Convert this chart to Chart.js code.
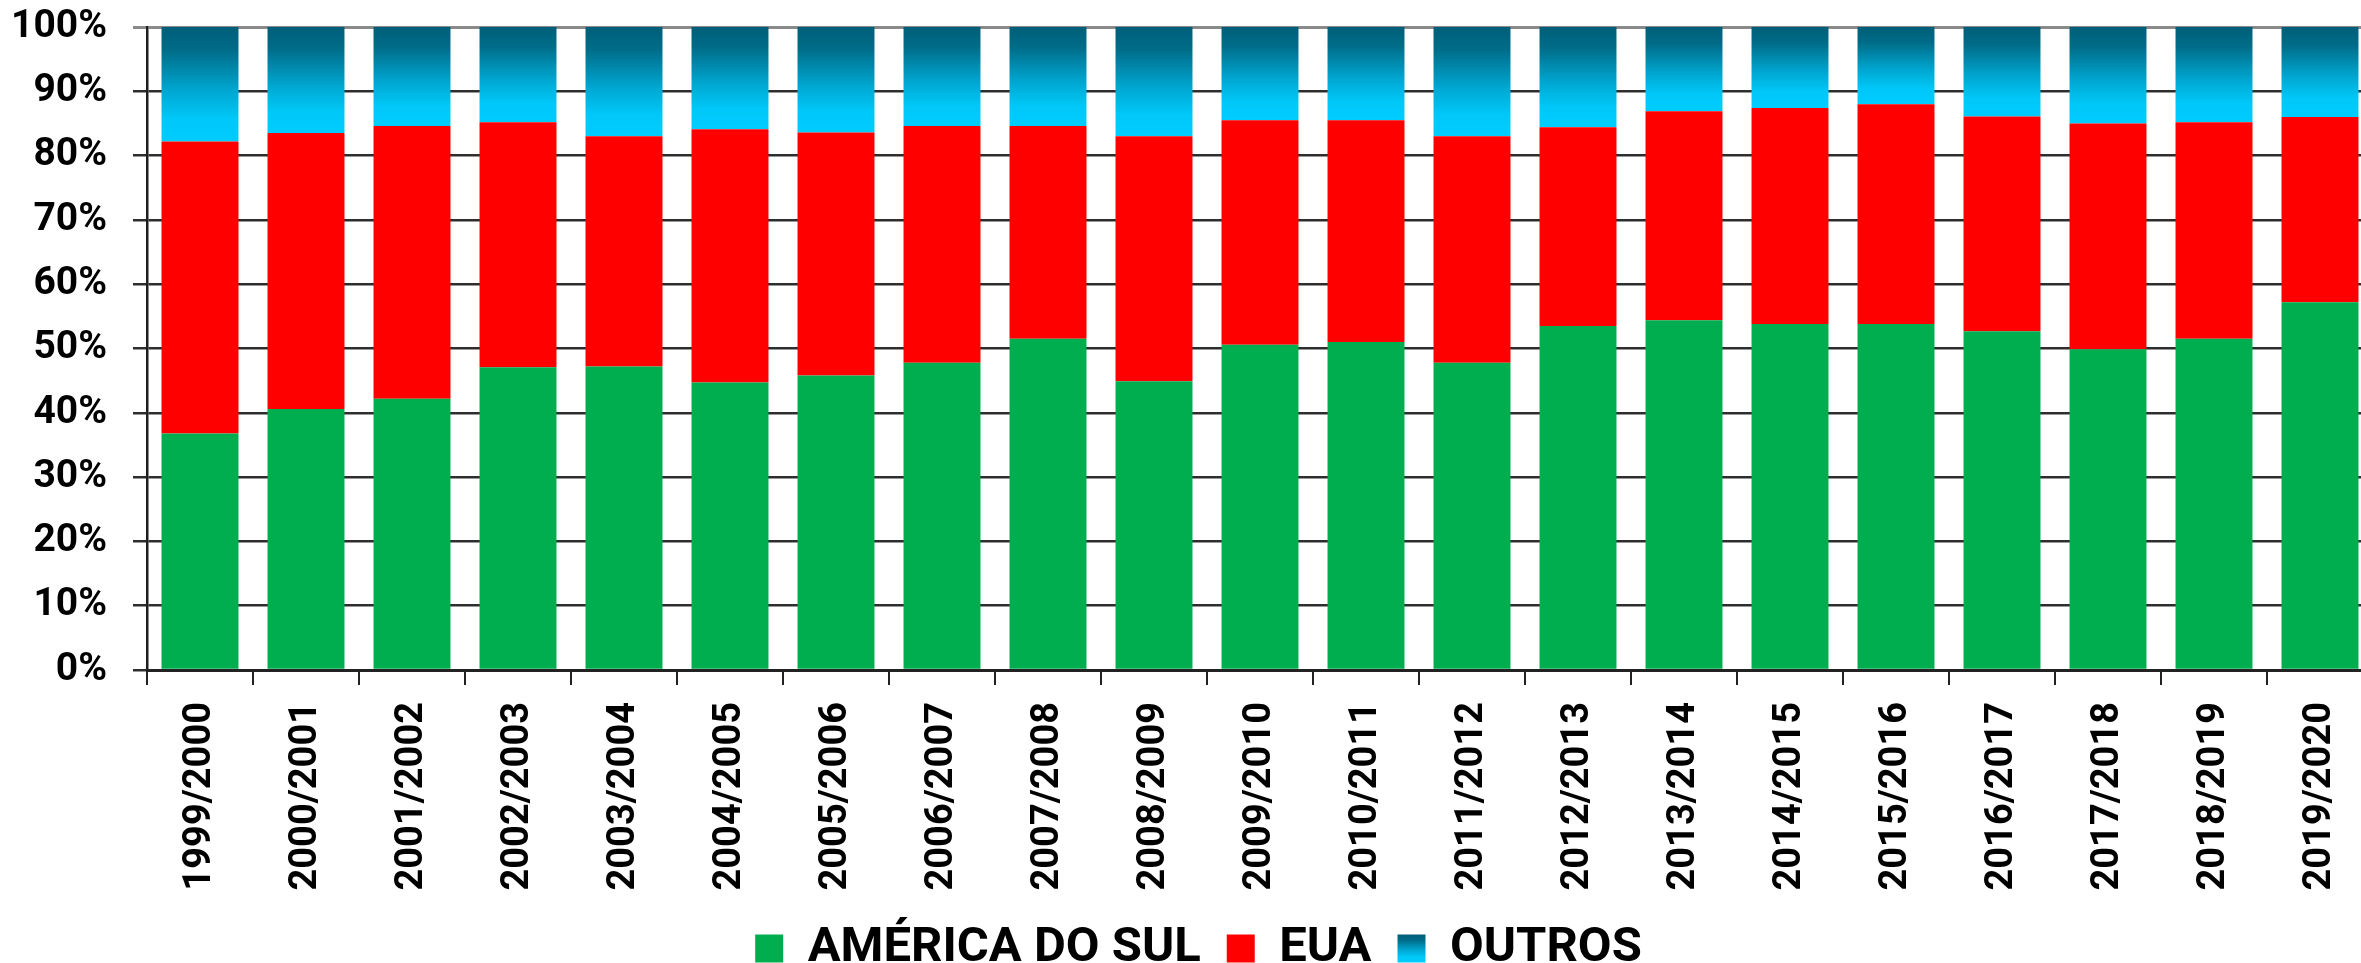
<!DOCTYPE html>
<html>
<head>
<meta charset="utf-8">
<script src="https://cdn.jsdelivr.net/npm/chart.js@4/dist/chart.umd.min.js"></script>
<style>
  html, body { margin: 0; padding: 0; background: #fff; }
  canvas { display: block; }
</style>
</head>
<body>
<canvas id="destinoChart" width="2361" height="963"></canvas>
<script>
// safras e participação (%) de cada destino
const safras = [
  "1999/2000", "2000/2001", "2001/2002", "2002/2003", "2003/2004", "2004/2005", "2005/2006",
  "2006/2007", "2007/2008", "2008/2009", "2009/2010", "2010/2011", "2011/2012", "2012/2013",
  "2013/2014", "2014/2015", "2015/2016", "2016/2017", "2017/2018", "2018/2019", "2019/2020"
];
const americaDoSul = [36.8, 40.6, 42.2, 47.1, 47.2, 44.7, 45.8, 47.8, 51.5, 44.9, 50.6, 51.0, 47.8, 53.5, 54.4, 53.8, 53.8, 52.7, 49.9, 51.5, 57.2];
const eua = [45.4, 42.9, 42.4, 38.1, 35.8, 39.4, 37.8, 36.8, 33.1, 38.1, 34.9, 34.5, 35.2, 30.9, 32.5, 33.6, 34.2, 33.4, 35.1, 33.7, 28.8];
const outros = [17.8, 16.5, 15.4, 14.8, 17.0, 15.9, 16.4, 15.4, 15.4, 17.0, 14.5, 14.5, 17.0, 15.6, 13.1, 12.6, 12.0, 13.9, 15.0, 14.8, 14.0];
const yTicks = [0, 10, 20, 30, 40, 50, 60, 70, 80, 90, 100];

const FONTE = "Roboto";
const LEGENDA_FONTE = 49;
const LEGENDA_CAIXA = 28;
const SOBRA_DIREITA = 12; // a área do gráfico passa um pouco da borda direita
const BASE_PAD = -20;

function outrosGradient(ctx, top, bottom) {
  const g = ctx.createLinearGradient(0, top, 0, bottom);
  g.addColorStop(0, "#005e78");
  g.addColorStop(0.2, "#006c88");
  g.addColorStop(0.55, "#00a6d0");
  g.addColorStop(0.8, "#00c8f8");
  g.addColorStop(1, "#00ccff");
  return g;
}

// cada barra de OUTROS ganha o seu degradê, do topo (100%) até o topo dos EUA
function outrosFill(context) {
  const chart = context.chart;
  const y = chart.scales.y;
  const i = context.dataIndex;
  if (!chart.chartArea || !y || i === undefined) return "#00a6d0";
  const base = americaDoSul[i] + eua[i];
  return outrosGradient(chart.ctx, y.getPixelForValue(base + outros[i]), y.getPixelForValue(base));
}

const ajustes = {
  id: "ajustes",
  afterLayout(chart) {
    const x = chart.scales.x;
    x.right += SOBRA_DIREITA;
    x.width += SOBRA_DIREITA;
    x.configure();
    chart.chartArea.right += SOBRA_DIREITA;
    chart.chartArea.width += SOBRA_DIREITA;
  },
  // legenda um pouco à direita do centro
  afterUpdate(chart) {
    const legend = chart.legend;
    if (!legend) return;
    legend.left += 18;
    legend.right += 18;
  },
  // caixinha de OUTROS na legenda também em degradê
  beforeDraw(chart) {
    const legend = chart.legend;
    if (!legend || !legend.legendItems || !legend.legendHitBoxes[2]) return;
    const hb = legend.legendHitBoxes[2];
    const top = hb.top + Math.max((LEGENDA_FONTE - LEGENDA_CAIXA) / 2, 0);
    legend.legendItems[2].fillStyle = outrosGradient(chart.ctx, top, top + LEGENDA_CAIXA);
  }
};

const ctx = document.getElementById("destinoChart").getContext("2d");

new Chart(ctx, {
  type: "bar",
  data: {
    labels: safras,
    datasets: [
      { label: "AMÉRICA DO SUL", data: americaDoSul, backgroundColor: "#00ae4f" },
      { label: "EUA", data: eua, backgroundColor: "#ff0000" },
      { label: "OUTROS", data: outros, backgroundColor: outrosFill }
    ]
  },
  options: {
    responsive: false,
    animation: false,
    layout: {
      padding: { top: 27, left: 0, right: 0, bottom: BASE_PAD }
    },
    datasets: {
      bar: { categoryPercentage: 1, barPercentage: 0.726, borderWidth: 0 }
    },
    plugins: {
      tooltip: { enabled: false },
      legend: {
        position: "bottom",
        labels: {
          boxWidth: 28,
          boxHeight: LEGENDA_CAIXA,
          padding: 26,
          color: "#000",
          font: { family: FONTE, size: LEGENDA_FONTE, weight: "bold" }
        }
      }
    },
    scales: {
      x: {
        stacked: true,
        grid: { drawOnChartArea: false, drawTicks: true, tickLength: 15, color: "#222", lineWidth: 2, offset: true },
        border: { display: true, color: "#222", width: 3 },
        ticks: {
          autoSkip: false,
          minRotation: 90,
          maxRotation: 90,
          padding: 17,
          color: "#000",
          font: { family: FONTE, size: 38, weight: "bold" }
        },
        afterFit(scale) {
          const leg = scale.chart.legend ? scale.chart.legend.height : 100;
          scale.height = Math.max(0, scale.chart.height - BASE_PAD - leg - 670);
          scale.paddingLeft = 0;
          scale.paddingRight = 0;
        }
      },
      y: {
        stacked: true,
        min: 0,
        max: 100,
        afterBuildTicks(scale) {
          scale.ticks = yTicks.map(v => ({ value: v }));
        },
        grid: {
          color: c => (c.tick && c.tick.value === 100 ? "#8a8a8a" : "#2e2e2e"),
          lineWidth: c => (c.tick && c.tick.value === 100 ? 3 : 2.5),
          tickLength: 14
        },
        border: { display: true, color: "#1e1e1e", width: 2.5 },
        ticks: {
          padding: 26,
          color: "#000",
          font: { family: FONTE, size: 39, weight: "bold" },
          callback: v => v + "%"
        },
        afterFit(scale) {
          scale.width = 147;
          scale.paddingTop = 0;
          scale.paddingBottom = 0;
        }
      }
    }
  },
  plugins: [ajustes]
});
</script>
</body>
</html>
